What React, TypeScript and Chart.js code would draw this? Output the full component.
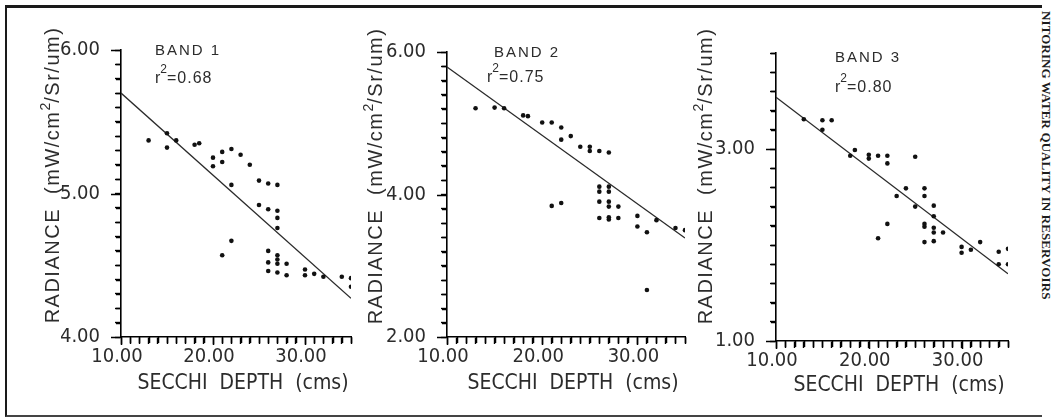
import React, { useEffect, useRef } from 'react';
import { Chart, registerables } from 'chart.js';

Chart.register(...registerables);

// ---------- data ----------
const depthLabels = [10, 20, 30];
const fitDepth = [10, 35];

const band1Depth = [13, 15, 15, 16, 18, 18.5, 20, 20, 21, 21, 21, 22, 22, 22, 23, 24, 25, 25, 26, 26, 26, 26, 26, 27, 27, 27, 27, 27, 27, 27, 27, 28, 28, 30, 30, 31, 32, 34, 35, 35];
const band1Radiance = [5.37, 5.42, 5.32, 5.37, 5.34, 5.35, 5.25, 5.19, 5.29, 5.22, 4.57, 5.31, 5.06, 4.67, 5.27, 5.2, 5.09, 4.92, 5.07, 4.89, 4.6, 4.52, 4.46, 5.06, 4.88, 4.83, 4.76, 4.57, 4.54, 4.51, 4.45, 4.51, 4.43, 4.47, 4.43, 4.44, 4.42, 4.42, 4.41, 4.35];
const band1Fit = [5.7, 4.27];
const band1YLabels = [4, 5, 6];

const band2Depth = [13, 15, 16, 18, 18.5, 20, 21, 22, 22, 23, 24, 25, 25, 26, 27, 26, 26, 27, 27, 26, 27, 27, 28, 26, 27, 27, 28, 21, 22, 30, 30, 32, 31, 34, 35, 31];
const band2Radiance = [5.21, 5.22, 5.21, 5.11, 5.1, 5.01, 5.01, 4.94, 4.77, 4.82, 4.67, 4.67, 4.61, 4.61, 4.59, 4.11, 4.04, 4.11, 4.04, 3.9, 3.9, 3.83, 3.83, 3.67, 3.68, 3.65, 3.67, 3.84, 3.88, 3.7, 3.55, 3.64, 3.47, 3.53, 3.5, 2.66];
const band2Fit = [5.79, 3.39];
const band2YLabels = [2, 4, 6];

const band3Depth = [13, 15, 15, 16, 18, 18.5, 20, 20, 21, 22, 22, 25, 22, 21, 23, 24, 25, 26, 26, 26, 26, 26, 27, 27, 27, 27, 27, 28, 30, 30, 31, 32, 34, 34, 35, 35];
const band3Radiance = [3.31, 3.3, 3.2, 3.3, 2.93, 2.99, 2.94, 2.9, 2.93, 2.93, 2.85, 2.92, 2.22, 2.07, 2.51, 2.59, 2.4, 2.59, 2.51, 2.22, 2.19, 2.03, 2.41, 2.3, 2.18, 2.13, 2.04, 2.13, 1.98, 1.92, 1.95, 2.03, 1.93, 1.8, 1.96, 1.8];
const band3Fit = [3.54, 1.7];
const band3YLabels = [1, 3];

const bandNames = ['BAND 1', 'BAND 2', 'BAND 3'];
const r2Values = ['0.68', '0.75', '0.80'];
const xTitle = 'SECCHI  DEPTH  (cms)';
const yTitleParts = ['RADIANCE  (mW/cm', '2', '/Sr/um)'];
const sideText = 'NITORING WATER QUALITY IN RESERVOIRS';

// ---------- layout / style ----------
const W = 1055;
const H = 417;
const Y_W = 60;
const X_H = 40;
const INK = '#000000';
const TEXT_INK = '#2c2c2c';
const NARROW = "'Liberation Sans Narrow', 'DejaVu Sans Condensed', 'Liberation Sans', sans-serif";
const SANS = "'Liberation Sans', Arial, sans-serif";

type Panel = {
  name: string;
  r2: string;
  depth: number[];
  radiance: number[];
  fit: number[];
  yMin: number;
  yMax: number;
  yStep: number;
  yLabels: number[];
  slot: { left: number; width: number };
  area: { l: number; r: number; t: number; b: number };
  band: { dx: number; dy: number };
  rline: { dx: number; dy: number };
  yTitle: { dx: number; cy: number };
  xTitle: { dx: number; y: number };
};

const panels: Panel[] = [
  {
    name: bandNames[0], r2: r2Values[0], depth: band1Depth, radiance: band1Radiance, fit: band1Fit,
    yMin: 4, yMax: 6, yStep: 0.1, yLabels: band1YLabels,
    slot: { left: 8, width: 354 },
    area: { l: 121, r: 351, t: 50, b: 337 },
    band: { dx: 34, dy: 5 }, rline: { dx: 34, dy: 33 },
    yTitle: { dx: -69, cy: 175 }, xTitle: { dx: 7, y: 389 },
  },
  {
    name: bandNames[1], r2: r2Values[1], depth: band2Depth, radiance: band2Radiance, fit: band2Fit,
    yMin: 2, yMax: 6, yStep: 0.2, yLabels: band2YLabels,
    slot: { left: 362, width: 330 },
    area: { l: 447, r: 685, t: 52, b: 337 },
    band: { dx: 47, dy: 5 }, rline: { dx: 40, dy: 30 },
    yTitle: { dx: -72, cy: 176 }, xTitle: { dx: 7, y: 389 },
  },
  {
    name: bandNames[2], r2: r2Values[2], depth: band3Depth, radiance: band3Radiance, fit: band3Fit,
    yMin: 1, yMax: 4, yStep: 0.2, yLabels: band3YLabels,
    slot: { left: 692, width: 344 },
    area: { l: 776, r: 1008, t: 53, b: 341 },
    band: { dx: 59, dy: 9 }, rline: { dx: 59, dy: 39 },
    yTitle: { dx: -71, cy: 176 }, xTitle: { dx: 7, y: 391 },
  },
];

type Seg = { text: string; font: string; dy: number; spacing: string };

function drawSegs(ctx: CanvasRenderingContext2D, x: number, y: number, segs: Seg[], align: 'left' | 'center') {
  let total = 0;
  const widths = segs.map((s) => {
    ctx.font = s.font;
    (ctx as any).letterSpacing = s.spacing;
    const w = ctx.measureText(s.text).width;
    total += w;
    return w;
  });
  let cx = align === 'center' ? x - total / 2 : x;
  segs.forEach((s, i) => {
    ctx.font = s.font;
    (ctx as any).letterSpacing = s.spacing;
    ctx.fillText(s.text, cx, y + s.dy);
    cx += widths[i];
  });
  (ctx as any).letterSpacing = '0px';
}

function near(list: number[], v: number) {
  return list.some((l) => Math.abs(l - v) < 1e-6);
}

function makeTextPlugin(p: Panel) {
  return {
    id: 'annot_' + p.name.replace(' ', ''),
    afterDraw(chart: any) {
      const ctx: CanvasRenderingContext2D = chart.ctx;
      const ca = chart.chartArea;
      ctx.save();
      ctx.fillStyle = TEXT_INK;
      ctx.textAlign = 'left';
      ctx.textBaseline = 'alphabetic';
      drawSegs(ctx, ca.left + p.band.dx, ca.top + p.band.dy, [
        { text: p.name, font: `15px ${SANS}`, dy: 0, spacing: '2px' },
      ], 'left');
      drawSegs(ctx, ca.left + p.rline.dx, ca.top + p.rline.dy, [
        { text: 'r', font: `16px ${SANS}`, dy: 0, spacing: '0px' },
        { text: '2', font: `12px ${SANS}`, dy: -10, spacing: '0px' },
        { text: '=' + p.r2, font: `16px ${SANS}`, dy: 0, spacing: '1px' },
      ], 'left');
      drawSegs(ctx, (ca.left + ca.right) / 2 + p.xTitle.dx, p.xTitle.y, [
        { text: xTitle, font: `21px ${NARROW}`, dy: 0, spacing: '0px' },
      ], 'center');
      ctx.translate(ca.left + p.yTitle.dx, p.yTitle.cy);
      ctx.rotate(-Math.PI / 2);
      drawSegs(ctx, 0, 7, [
        { text: yTitleParts[0], font: `20px ${SANS}`, dy: 0, spacing: '1.5px' },
        { text: yTitleParts[1], font: `14px ${SANS}`, dy: -9, spacing: '0px' },
        { text: yTitleParts[2], font: `20px ${SANS}`, dy: 0, spacing: '1.5px' },
      ], 'center');
      ctx.restore();

      // tick marks at the library's own tick positions (drawn last, on top)
      const xs = chart.scales.x;
      const ys = chart.scales.y;
      ctx.save();
      ctx.setTransform(1, 0, 0, 1, 0, 0);
      ctx.globalAlpha = 1;
      ctx.globalCompositeOperation = 'source-over';
      ctx.setLineDash([]);
      ctx.strokeStyle = INK;
      ctx.lineWidth = 1.5;
      ctx.lineCap = 'butt';
      ctx.beginPath();
      xs.ticks.forEach((t: any) => {
        const px = Math.round(xs.getPixelForValue(t.value)) + 0.5;
        const len = near(depthLabels, t.value) ? 8 : 6;
        ctx.moveTo(px, ca.bottom);
        ctx.lineTo(px, ca.bottom + len);
      });
      ys.ticks.forEach((t: any) => {
        const py = Math.round(ys.getPixelForValue(t.value)) + 0.5;
        const len = near(p.yLabels, t.value) ? 10 : 5;
        ctx.moveTo(ca.left, py);
        ctx.lineTo(ca.left - len, py);
      });
      ctx.stroke();
      ctx.restore();
    },
  };
}

function PanelChart({ p }: { p: Panel }) {
  const ref = useRef<HTMLCanvasElement | null>(null);
  useEffect(() => {
    if (!ref.current) return;
    const localL = p.area.l - p.slot.left;
    const localR = p.area.r - p.slot.left;
    const chart = new Chart(ref.current, {
      type: 'scatter',
      data: {
        datasets: [
          {
            label: p.name,
            data: p.depth.map((x, i) => ({ x, y: p.radiance[i] })),
            pointRadius: 2.3,
            pointHoverRadius: 2.3,
            pointBackgroundColor: '#111',
            pointBorderColor: '#111',
            pointBorderWidth: 0,
            showLine: false,
          },
          {
            label: 'fit',
            data: fitDepth.map((x, i) => ({ x, y: p.fit[i] })),
            showLine: true,
            pointRadius: 0,
            borderColor: '#2a2a2a',
            borderWidth: 1.3,
          },
        ],
      },
      options: {
        responsive: false,
        animation: false,
        devicePixelRatio: 1,
        layout: {
          padding: {
            left: localL - Y_W,
            right: p.slot.width - localR,
            top: p.area.t,
            bottom: H - p.area.b - X_H,
          },
        },
        plugins: {
          legend: { display: false },
          tooltip: { enabled: false },
        },
        scales: {
          x: {
            min: 10,
            max: 35,
            afterFit: (s: any) => { s.height = X_H; },
            border: { display: true, color: INK, width: 1.6 },
            grid: { drawOnChartArea: false, drawTicks: true, tickLength: 7, tickColor: INK, tickWidth: 1.4 },
            ticks: {
              stepSize: 1,
              autoSkip: false,
              maxRotation: 0,
              minRotation: 0,
              padding: 1,
              labelOffset: -4,
              color: TEXT_INK,
              font: { family: NARROW, size: 20 },
              callback: (v: any) => (near(depthLabels, Number(v)) ? Number(v).toFixed(2) : ''),
            },
          },
          y: {
            min: p.yMin,
            max: p.yMax,
            afterFit: (s: any) => { s.width = Y_W; },
            border: { display: true, color: INK, width: 1.6 },
            grid: { drawOnChartArea: false, drawTicks: true, tickLength: 6, tickColor: INK, tickWidth: 1.4 },
            ticks: {
              stepSize: p.yStep,
              autoSkip: false,
              padding: 15,
              color: TEXT_INK,
              font: { family: NARROW, size: 20 },
              callback: (v: any) => (near(p.yLabels, Number(v)) ? Number(v).toFixed(2) : ''),
            },
          },
        },
      },
      plugins: [makeTextPlugin(p)],
    } as any);
    return () => chart.destroy();
  }, [p]);
  return (
    <canvas
      ref={ref}
      width={p.slot.width}
      height={H}
      style={{ position: 'absolute', left: p.slot.left, top: 0, width: p.slot.width, height: H, zIndex: 2 }}
    />
  );
}

export default function App() {
  return (
    <div
      style={{
        position: 'fixed',
        left: 0,
        top: 0,
        width: W,
        height: H,
        background: '#ffffff',
      }}
    >
      <div
        style={{
          position: 'absolute',
          left: 5,
          top: 5,
          width: 1035,
          height: 407,
          borderTop: '3px solid #1a1a1a',
          borderLeft: '2px solid #1a1a1a',
          borderBottom: '2px solid #444',
          zIndex: 1,
          pointerEvents: 'none',
        }}
      />
      {panels.map((p) => (
        <PanelChart key={p.name} p={p} />
      ))}
      <div
        style={{
          position: 'absolute',
          left: 1039,
          top: 11,
          writingMode: 'vertical-rl',
          fontFamily: "'Liberation Serif', 'Times New Roman', serif",
          fontWeight: 'bold',
          fontSize: 13,
          letterSpacing: 0.1,
          color: '#1c1c1c',
          whiteSpace: 'nowrap',
          lineHeight: '14px',
          zIndex: 3,
        }}
      >
        {sideText}
      </div>
    </div>
  );
}
